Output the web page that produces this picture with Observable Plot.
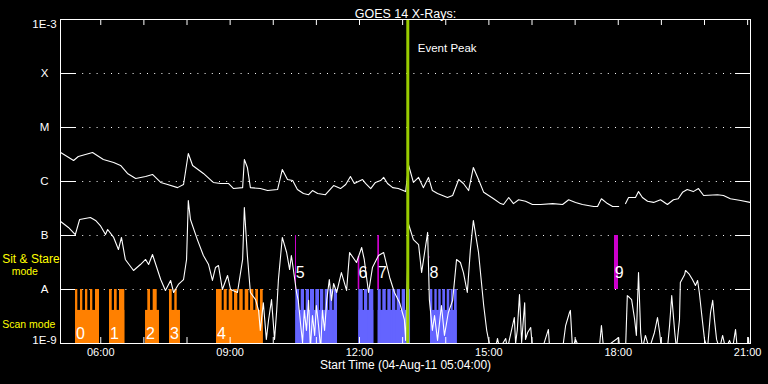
<!DOCTYPE html>
<html><head><meta charset="utf-8">
<script src="https://cdn.jsdelivr.net/npm/d3@7"></script>
<script src="https://cdn.jsdelivr.net/npm/@observablehq/plot@0.6"></script>
<style>html,body{margin:0;padding:0;background:#000;overflow:hidden}</style>
</head><body><div id="chart"></div><script>
// ---------- data ----------
const startHour = 5 + 4/60, endHour = 21 + 4/60;
const titleText = "GOES 14 X-Rays:";
const captionText = "Start Time (04-Aug-11 05:04:00)";
const hourTicks = [6,7,8,9,10,11,12,13,14,15,16,17,18,19,20,21];
const labelHours = [6,9,12,15,18,21];
const classLevels = [1e-4,1e-5,1e-6,1e-7,1e-8];
const classNames = ["X","M","C","B","A"];
const topLevel = 1e-3, bottomLevel = 1e-9;
const eventPeakHour = 13.12;

// long channel (upper curve)
const longTime = [5.07,5.37,5.48,5.81,6.06,6.30,6.46,6.62,6.81,7.04,7.20,7.39,7.55,7.78,7.92,8.03,8.13,8.38,8.61,8.78,8.96,9.08,9.29,9.33,9.40,9.47,9.70,9.87,10.10,10.21,10.33,10.45,10.56,10.70,10.82,10.91,11.03,11.21,11.40,11.56,11.68,11.79,11.88,12.07,12.14,12.26,12.37,12.49,12.56,12.65,12.77,12.90,13.07,13.14,13.25,13.37,13.48,13.60,13.69,13.81,14.04,14.16,14.30,14.41,14.53,14.64,14.76,14.88,15.11,15.27,15.34,15.46,15.57,15.69,15.85,16.01,16.20,16.48,16.71,16.85,17.01,17.17,17.43,17.52,17.61,17.75,17.87,18.01,18.09,18.17,18.24,18.40,18.47,18.56,18.68,18.82,18.98,19.14,19.28,19.39,19.49,19.60,19.74,19.86,19.98,20.30,20.44,20.60,20.84,21.06];
const longFlux = [3.44e-6,2.45e-6,2.9e-6,3.44e-6,2.56e-6,2.25e-6,1.98e-6,1.41e-6,1.14e-6,1.24e-6,1.35e-6,9.6e-7,8.8e-7,7.7e-7,8.8e-7,3.3e-6,1.98e-6,1.41e-6,9.6e-7,9.2e-7,9.2e-7,7.4e-7,7.7e-7,2.56e-6,1.82e-6,7.7e-7,7.4e-7,6.8e-7,7.1e-7,1.67e-6,1.09e-6,1.04e-6,7.1e-7,6.0e-7,5.7e-7,6.8e-7,6.0e-7,5.7e-7,8.4e-7,7.4e-7,8.8e-7,1.24e-6,9.2e-7,1.09e-6,9.2e-7,7.4e-7,9.6e-7,1.04e-6,1.19e-6,9.2e-7,7.7e-7,7.4e-7,6.5e-7,1.98e-6,9.6e-7,1.19e-6,7.7e-7,1.19e-6,6.8e-7,6.0e-7,5.05e-7,5.5e-7,1.09e-6,9.2e-7,6.8e-7,1.82e-6,1.09e-6,6.3e-7,4.8e-7,3.9e-7,3.75e-7,5.05e-7,3.9e-7,4.6e-7,4.3e-7,3.75e-7,3.75e-7,3.9e-7,3.75e-7,4.6e-7,4.1e-7,3.75e-7,3.45e-7,3.45e-7,4.8e-7,3.9e-7,3.45e-7,3.45e-7,NaN,3.9e-7,5.05e-7,5.05e-7,6.5e-7,5.05e-7,4.3e-7,4.1e-7,4.6e-7,3.75e-7,4.6e-7,4.8e-7,6.3e-7,7.1e-7,6.5e-7,7.4e-7,5.5e-7,5.7e-7,5.5e-7,4.8e-7,4.45e-7,4.1e-7];

// short channel (lower curve); values below 1E-9 fall off the plot
const shortTime = [5.07,5.25,5.41,5.51,5.76,5.88,5.99,6.11,6.16,6.30,6.41,6.48,6.57,6.76,6.92,7.04,7.11,7.20,7.39,7.50,7.62,7.69,7.80,7.92,7.99,8.03,8.08,8.24,8.38,8.50,8.59,8.66,8.73,8.82,8.94,9.01,9.17,9.29,9.33,9.40,9.47,9.59,9.66,9.70,9.77,9.84,9.89,9.96,10.03,10.08,10.12,10.21,10.31,10.38,10.42,10.47,10.54,10.58,10.63,10.68,10.72,10.77,10.82,10.86,10.91,10.96,11.00,11.05,11.10,11.14,11.19,11.24,11.30,11.35,11.40,11.47,11.58,11.70,11.77,11.93,12.05,12.11,12.21,12.30,12.44,12.56,12.70,12.81,12.93,13.04,13.07,13.14,13.25,13.37,13.44,13.51,13.58,13.62,13.69,13.74,13.81,13.90,13.97,14.06,14.16,14.25,14.34,14.41,14.50,14.57,14.64,14.76,14.88,14.95,14.99,15.04,15.15,15.20,15.25,15.39,15.43,15.59,15.62,15.66,15.71,15.76,15.83,15.85,15.90,15.97,16.01,16.24,16.38,16.41,16.71,16.78,16.87,16.89,16.94,17.01,17.10,17.56,17.61,17.66,18.01,18.03,18.17,18.21,18.26,18.31,18.38,18.42,18.47,18.52,18.56,18.63,18.72,18.84,18.91,18.96,19.00,19.14,19.19,19.24,19.31,19.35,19.42,19.44,19.54,19.56,19.65,19.72,19.79,19.84,19.88,19.93,20.00,20.07,20.14,20.19,20.23,20.28,20.35,20.42,20.49,20.58,20.65,20.72,20.76,21.00,21.02,21.04];
const shortFlux = [1.82e-7,1.41e-7,1.04e-7,1.98e-7,2.15e-7,1.9e-7,1.53e-7,1.04e-7,1.29e-7,9.2e-8,5.5e-8,9.2e-8,3.6e-8,2.25e-8,2.9e-8,3.6e-8,2.9e-8,4.45e-8,1.53e-8,9.6e-9,1.47e-8,8.8e-9,1.24e-8,1.53e-8,3.6e-8,4.45e-7,1.98e-7,8.4e-8,4.26e-8,2.9e-8,1.47e-8,2.55e-8,2.78e-8,1.0e-8,1.82e-8,1.0e-8,8.8e-9,3.6e-8,3.3e-7,4.26e-8,8.8e-9,6.5e-9,4.1e-9,1.74e-9,5.7e-9,1.19e-9,2.67e-9,6.5e-9,1.19e-9,4.1e-9,1.53e-8,9.2e-8,4.84e-8,2.34e-8,4.26e-8,2.25e-8,8.8e-9,6.3e-9,2.45e-9,1.04e-9,4.1e-9,1.74e-9,6.3e-9,8e-10,3.3e-9,1.41e-9,5.05e-9,2.15e-9,8e-10,4.1e-9,1.74e-9,6.3e-9,1.53e-8,6.3e-9,1.29e-8,8.8e-9,2.06e-8,9.6e-9,4.84e-8,3.16e-8,6.0e-8,3.6e-8,8.8e-9,2.55e-8,4.26e-8,4.84e-8,1.67e-8,8.8e-9,5.7e-9,2.78e-9,1.14e-9,1.6e-7,8.4e-8,6.8e-8,2.06e-8,4.84e-8,1.14e-7,6.5e-9,1.74e-9,3.3e-9,1.14e-9,5.05e-9,1.41e-9,3.75e-9,6.3e-9,3.6e-8,3.16e-8,2.06e-8,8.8e-9,5.3e-8,1.9e-7,4.84e-8,5.05e-9,1.74e-9,1.19e-9,8e-10,8e-10,1.24e-9,8e-10,1.24e-9,8e-10,3.03e-9,1e-9,1.82e-9,8.1e-9,1.04e-9,5.7e-9,1.19e-9,1.6e-9,1.98e-9,8e-10,8e-10,1.82e-9,8e-10,8e-10,2.15e-9,3.75e-9,4.1e-9,8e-10,1.19e-9,8e-10,8e-10,2.15e-9,8e-10,1.29e-9,8e-10,8e-10,7.7e-9,7.1e-9,6.5e-9,2.78e-9,1.41e-9,2.06e-8,1.6e-9,8e-10,1.41e-9,8e-10,1.6e-9,3.03e-9,1.6e-9,8e-10,8e-10,2.15e-9,7.7e-9,1.6e-9,8e-10,2.78e-9,1.35e-8,1.9e-8,2.25e-8,1.9e-8,1.53e-8,1.19e-8,1.47e-8,8.8e-9,3.75e-9,1.19e-9,8e-10,3.75e-9,6.3e-9,2.78e-9,1.19e-9,8e-10,1.41e-9,8e-10,1.14e-9,8e-10,1.82e-9,8e-10,8e-10,1.29e-9,8e-10];

// scan-mode blocks
const scanLabel = ["0","1","2","3","4","5","6","7","8"];
const scanGroup = ["early","early","early","early","early","late","late","late","late"];
const scanStart = [5.415,6.203,7.038,7.594,8.684,10.523,11.984,12.434,13.647];
const scanEnd   = [5.971,6.558,7.362,7.849,9.767,11.490,12.332,13.183,14.266];
const scanBaseTop = 4.1e-9, scanSpikeTop = 1e-8;
const spikeBlock = [0,0,0,0,0, 1,1,1, 2,2, 3,3, 4,4,4,4,4,4,4,4,4, 5,5,5,5,5,5,5,5,5, 6,6,6, 7,7,7,7,7,7,7, 8,8,8,8,8,8,8];
const spikeStart = [5.415,5.530,5.646,5.762,5.878, 6.203,6.319,6.435, 7.091,7.216, 7.594,7.717, 8.684,8.863,8.979,9.102,9.224,9.350,9.473,9.596,9.705, 10.523,10.648,10.764,10.864,10.987,11.096,11.205,11.311,11.413, 11.984,12.116,12.225, 12.434,12.541,12.657,12.766,12.874,12.990,13.090, 13.647,13.747,13.839,13.932,14.034,14.127,14.203];
const spikeEnd   = [5.468,5.584,5.700,5.816,5.971, 6.266,6.381,6.558, 7.154,7.309, 7.657,7.773, 8.816,8.932,9.062,9.178,9.303,9.433,9.549,9.658,9.767, 10.609,10.725,10.841,10.957,11.073,11.172,11.281,11.381,11.490, 12.086,12.192,12.332, 12.504,12.620,12.735,12.842,12.951,13.067,13.183, 13.700,13.802,13.895,13.995,14.094,14.173,14.266];

// sit & stare markers
const sitLabel = ["5","6","7","8","9"];
const sitStart = [10.516,11.970,12.424,13.616,17.913];
const sitEnd   = [10.539,12.007,12.464,13.630,18.006];
const sitLow   = [1e-8,1e-8,1e-8,3.75e-8,1e-8];
const sitHigh  = [1e-7,4.1e-8,1e-7,4.1e-8,1e-7];

// ---------- build ----------
const W = 768, H = 384, mL = 60, mR = 18, mT = 19, mB = 41;
const fw = W - mL - mR, fh = H - mT - mB;
const groupColor = {early: "#ff8000", late: "#6464ff"};
const longData = longTime.map((t, i) => ({t, f: longFlux[i]}));
const shortData = shortTime.map((t, i) => ({t, f: shortFlux[i]}));
const blocks = scanStart.map((s, i) => ({start: s, end: scanEnd[i], label: scanLabel[i], group: scanGroup[i]}));
const spikes = spikeStart.map((s, i) => ({start: s, end: spikeEnd[i], group: scanGroup[spikeBlock[i]]}));
const sits = sitStart.map((s, i) => ({start: s, end: sitEnd[i], lo: sitLow[i], hi: sitHigh[i], label: sitLabel[i]}));
const fmtHour = h => String(h).padStart(2, "0") + ":00";
const white = "#fff", yellow = "#ffff00";

const chart = Plot.plot({
  width: W, height: H,
  marginLeft: mL, marginRight: mR, marginTop: mT, marginBottom: mB,
  style: {background: "#000", color: white, fontFamily: "'Liberation Sans', Arial, sans-serif", fontSize: "11px"},
  x: {domain: [startHour, endHour], axis: null},
  y: {type: "log", domain: [bottomLevel, topLevel], axis: null},
  marks: [
    Plot.ruleY(classLevels, {y: d => d, stroke: white, strokeDasharray: "1,6.2", insetLeft: 15, insetRight: 15}),
    Plot.rect(blocks, {x1: "start", x2: "end", y1: () => bottomLevel, y2: () => scanBaseTop, fill: d => groupColor[d.group]}),
    Plot.rect(spikes, {x1: "start", x2: "end", y1: () => bottomLevel, y2: () => scanSpikeTop, fill: d => groupColor[d.group]}),
    Plot.rect(sits, {x1: "start", x2: "end", y1: "lo", y2: "hi", fill: "#cc00cc"}),
    Plot.line(longData, {x: "t", y: "f", stroke: white, strokeWidth: 1.1, clip: true}),
    Plot.line(shortData, {x: "t", y: "f", stroke: white, strokeWidth: 1.1, clip: true}),
    Plot.ruleX([eventPeakHour], {x: d => d, stroke: "#99cc00", strokeWidth: 3}),
    Plot.text([eventPeakHour], {x: d => d, frameAnchor: "top", dy: 24, dx: 10, textAnchor: "start", text: () => "Event Peak", fill: white, fontSize: 11.5}),
    Plot.text(blocks.filter(d => d.group === "early"), {x: "start", y: () => bottomLevel, dy: -10, dx: 0.5, textAnchor: "start", text: "label", fill: white, fontSize: 16}),
    Plot.text(sits, {x: "start", y: () => 1e-8, dy: -17, dx: 0.3, textAnchor: "start", text: "label", fill: white, fontSize: 16}),
    // title & captions
    Plot.text([titleText], {frameAnchor: "top", dy: -10, text: d => d, fill: white, fontSize: 12.5}),
    Plot.text([captionText], {frameAnchor: "bottom", dy: 25, text: d => d, fill: white, fontSize: 12}),
    Plot.text(labelHours, {x: d => d, frameAnchor: "bottom", dy: 12, text: fmtHour, fill: white, fontSize: 11}),
    // y labels
    Plot.text(classLevels, {y: d => d, frameAnchor: "left", dx: -16, textAnchor: "middle", text: (d, i) => classNames[i], fill: white, fontSize: 11.5}),
    Plot.text([topLevel], {y: d => d, frameAnchor: "left", dx: -16, dy: 4.5, textAnchor: "middle", text: () => "1E-3", fill: white, fontSize: 11.5}),
    Plot.text([bottomLevel], {y: d => d, frameAnchor: "left", dx: -16, dy: -3.5, textAnchor: "middle", text: () => "1E-9", fill: white, fontSize: 11.5}),
    Plot.text(["Sit & Stare"], {y: () => 1e-8, frameAnchor: "left", dx: -58.3, dy: -30, textAnchor: "start", text: d => d, fill: yellow, fontSize: 12}),
    Plot.text(["mode"], {y: () => 1e-8, frameAnchor: "left", dx: -35.7, dy: -18, textAnchor: "middle", text: d => d, fill: yellow, fontSize: 10.5}),
    Plot.text(["Scan mode"], {y: () => 1e-8, frameAnchor: "left", dx: -58.3, dy: 35, textAnchor: "start", text: d => d, fill: yellow, fontSize: 10.5}),
    // frame & ticks
    Plot.frame({stroke: white}),
    Plot.ruleX(hourTicks, {x: d => d, stroke: white, insetBottom: fh - 6}),
    Plot.ruleX(hourTicks, {x: d => d, stroke: white, insetTop: fh - 6}),
    Plot.ruleY(classLevels, {y: d => d, stroke: white, insetRight: fw - 15}),
    Plot.ruleY(classLevels, {y: d => d, stroke: white, insetLeft: fw - 15})
  ]
});
document.getElementById("chart").appendChild(chart);
</script></body></html>
